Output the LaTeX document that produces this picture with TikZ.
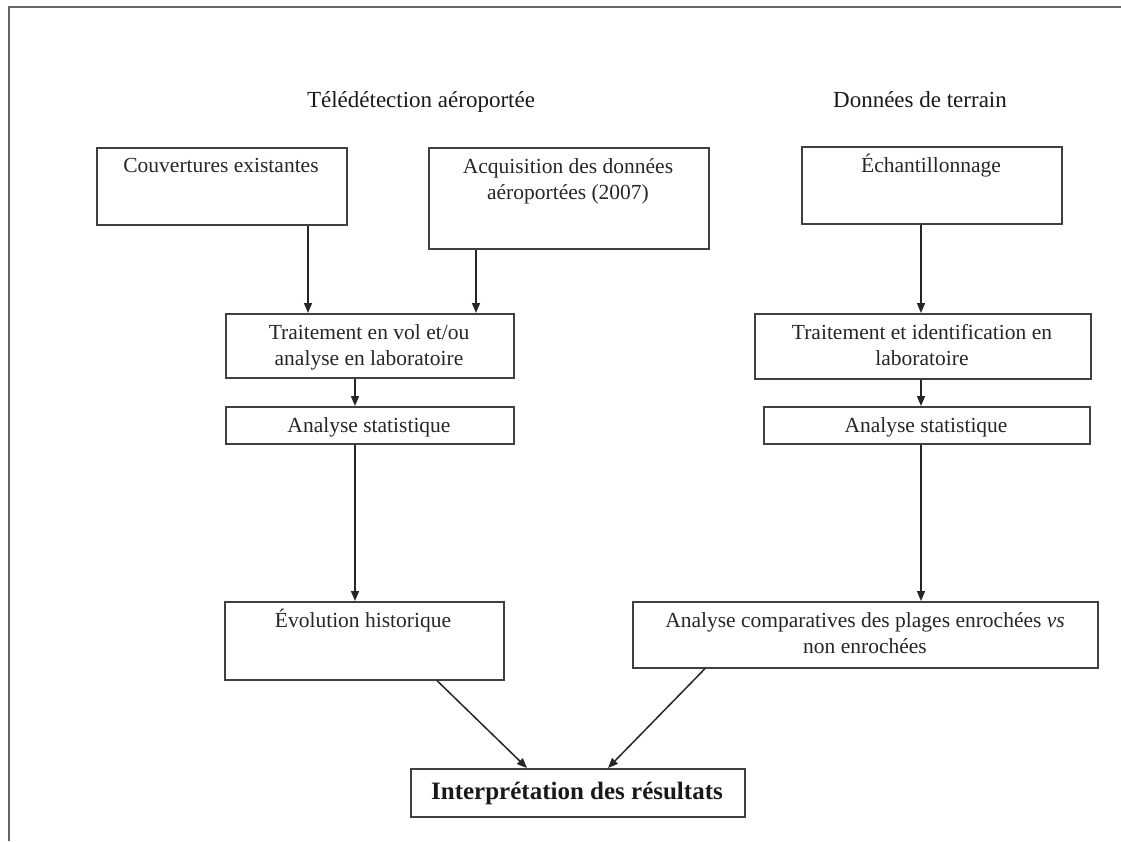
\documentclass[tikz,border=0pt]{standalone}
\usepackage{fontspec}
\setmainfont{Liberation Serif}
\usetikzlibrary{arrows.meta}
\begin{document}
\begin{tikzpicture}[x=1pt,y=-1pt,
  bx/.style={draw=black!75, line width=1.6pt, inner sep=0pt, anchor=north west},
  tx/.style={inner sep=0pt, anchor=base, text=black!85, font=\fontsize{21.5}{25}\selectfont},
  hd/.style={inner sep=0pt, anchor=base, text=black!90, font=\fontsize{23}{27}\selectfont},
  fin/.style={inner sep=0pt, anchor=base, text=black!90, font=\fontsize{25}{29}\selectfont\bfseries},
  arr/.style={draw=black!85, line width=1.5pt, -{Triangle[length=10pt,width=8pt]}}]
\useasboundingbox (0,0) rectangle (1121,841);
% frame
\draw[black!60, line width=1.4pt] (9,841) -- (9,7) -- (1121,7);
% headings
\node[hd] (h1) at (421,107) {Télédétection aéroportée};
\node[hd] (h2) at (920,107) {Données de terrain};
% boxes
\node[bx, minimum width=250pt, minimum height=77pt] (c1) at (96,147) {};
\node[bx, minimum width=280pt, minimum height=101pt] (c2) at (428,147) {};
\node[bx, minimum width=260pt, minimum height=77pt] (c3) at (801,146) {};
\node[bx, minimum width=288pt, minimum height=64pt] (t1) at (225,313) {};
\node[bx, minimum width=336pt, minimum height=65pt] (t2) at (754,313) {};
\node[bx, minimum width=288pt, minimum height=37pt] (s1) at (225,406) {};
\node[bx, minimum width=326pt, minimum height=37pt] (s2) at (763,406) {};
\node[bx, minimum width=279pt, minimum height=78pt] (e1) at (224,601) {};
\node[bx, minimum width=465pt, minimum height=66pt] (a1) at (632,601) {};
\node[bx, minimum width=334pt, minimum height=48pt] (f) at (410,768) {};
% texts
\node[tx] (c1t) at (221,172) {Couvertures existantes};
\node[tx] (c2t1) at (568,173) {Acquisition des données};
\node[tx] (c2t2) at (568,199) {aéroportées (2007)};
\node[tx] (c3t) at (931,172) {Échantillonnage};
\node[tx] (t1t1) at (369,339) {Traitement en vol et/ou};
\node[tx] (t1t2) at (369,365) {analyse en laboratoire};
\node[tx] (t2t1) at (922,339) {Traitement et identification en};
\node[tx] (t2t2) at (922,365) {laboratoire};
\node[tx] (s1t) at (369,432) {Analyse statistique};
\node[tx] (s2t) at (926,432) {Analyse statistique};
\node[tx] (e1t) at (363,627) {Évolution historique};
\node[tx] (a1t1) at (865,627) {Analyse comparatives des plages enrochées \textit{vs}};
\node[tx] (a1t2) at (865,653) {non enrochées};
\node[fin] (ft) at (577,799) {Interprétation des résultats};
% connector x positions
\coordinate (xa) at (308,0);
\coordinate (xb) at (476,0);
\coordinate (xc) at (355,0);
\coordinate (xd) at (921,0);
\coordinate (xe) at (437,0);
\coordinate (xf) at (527,0);
\coordinate (xg) at (705,0);
\coordinate (xh) at (608,0);
% connectors
\draw[arr] (c1.south -| xa) -- (t1.north -| xa);
\draw[arr] (c2.south -| xb) -- (t1.north -| xb);
\draw[arr] (t1.south -| xc) -- (s1.north -| xc);
\draw[arr] (s1.south -| xc) -- (e1.north -| xc);
\draw[arr] (c3.south -| xd) -- (t2.north -| xd);
\draw[arr] (t2.south -| xd) -- (s2.north -| xd);
\draw[arr] (s2.south -| xd) -- (a1.north -| xd);
\draw[arr] (e1.south -| xe) -- (f.north -| xf);
\draw[arr] (a1.south -| xg) -- (f.north -| xh);
\end{tikzpicture}
\end{document}
